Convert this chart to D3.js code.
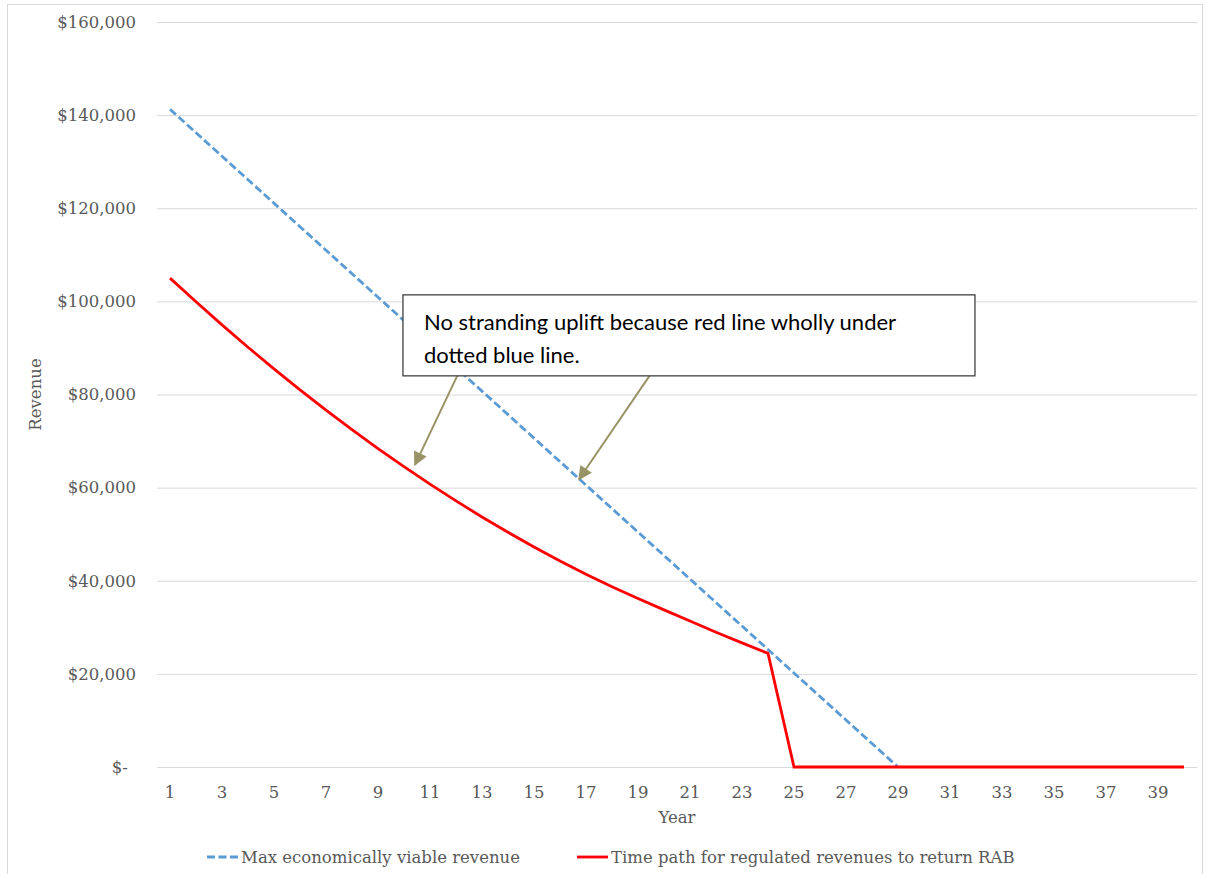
<!DOCTYPE html>
<html>
<head>
<meta charset="utf-8">
<script src="https://cdn.jsdelivr.net/npm/d3@7/dist/d3.min.js"></script>
<style>
  html, body { margin: 0; padding: 0; background: #ffffff; }
  svg { display: block; }
  .tick text { font-family: "DejaVu Serif", Georgia, serif; fill: #595959; }
</style>
</head>
<body>
<svg id="chart" width="1205" height="874"></svg>
<script>
// Years on the category axis
const years = d3.range(1, 41);

// Maximum economically viable revenue (falls to zero in year 29)
const maxViableRevenue = [
  141260, 136215, 131170, 126125, 121080, 116035, 110990, 105945, 100900, 95855,
  90810, 85765, 80720, 75675, 70630, 65585, 60540, 55495, 50450, 45405,
  40360, 35315, 30270, 25225, 20180, 15135, 10090, 5045, 0
];

// Time path for regulated revenues to return the RAB
const regulatedRevenue = [
  105000, 99900, 94950, 90150, 85500, 81000, 76650, 72450, 68400, 64500,
  60750, 57150, 53700, 50400, 47250, 44250, 41400, 38700, 36200, 33750,
  31350, 28950, 26650, 24400, 0, 0, 0, 0, 0, 0,
  0, 0, 0, 0, 0, 0, 0, 0, 0, 0
];

// Axis ticks
const yTickValues = [0, 20000, 40000, 60000, 80000, 100000, 120000, 140000, 160000];
const yTickLabels = ["$-\u2002", "$20,000", "$40,000", "$60,000", "$80,000", "$100,000", "$120,000", "$140,000", "$160,000"];
const xTickLabels = years.filter(y => y % 2 === 1);

// Series names for the legend
const seriesNames = ["Max economically viable revenue", "Time path for regulated revenues to return RAB"];

// Callout text and the points its arrows indicate (year, revenue)
const calloutLines = ["No stranding uplift because red line wholly under", "dotted blue line."];
const calloutAnchor = { year: 9.96, value: 101400 };
const arrowTargets = [
  { from: { year: 12.54, value: 89800 }, to: { year: 10.42, value: 64900 } },
  { from: { year: 19.54, value: 84800 }, to: { year: 16.73, value: 61800 } }
];

const svg = d3.select("#chart");
const margin = { left: 157, right: 8, top: 22, bottom: 107 };
const W = 1205, H = 874;

// Outer chart frame
svg.append("rect")
  .attr("x", 7.5).attr("y", 4.5)
  .attr("width", 1195).attr("height", 872)
  .attr("fill", "none").attr("stroke", "#d9d9d9").attr("stroke-width", 1);

const x = d3.scaleBand().domain(years).range([margin.left, W - margin.right]).paddingInner(0).paddingOuter(0);
const xc = d => x(d) + x.bandwidth() / 2;
const xYear = v => x(1) + x.bandwidth() / 2 + (v - 1) * x.bandwidth();
const y = d3.scaleLinear().domain([0, 160000]).range([H - margin.bottom, margin.top]);

// Gridlines + y labels
const yAxis = d3.axisLeft(y)
  .tickValues(yTickValues)
  .tickFormat((d, i) => yTickLabels[i])
  .tickSize(-(W - margin.right - margin.left))
  .tickPadding(21);
const gy = svg.append("g").attr("transform", `translate(${margin.left},0)`).call(yAxis);
gy.select(".domain").remove();
gy.selectAll(".tick line").attr("stroke", "#d9d9d9").attr("stroke-width", 1);
gy.selectAll(".tick text").attr("font-size", 16.5);

// X labels
const xAxis = d3.axisBottom(x)
  .tickValues(xTickLabels)
  .tickSize(0)
  .tickPadding(19);
const gx = svg.append("g").attr("transform", `translate(0,${y(0)})`).call(xAxis);
gx.select(".domain").remove();
gx.selectAll(".tick text").attr("font-size", 16.5);

// Axis titles
svg.append("text")
  .attr("x", (margin.left + W - margin.right) / 2).attr("y", 823)
  .attr("text-anchor", "middle")
  .attr("font-family", "DejaVu Serif, Georgia, serif").attr("font-size", 16.5).attr("fill", "#595959")
  .text("Year");
svg.append("text")
  .attr("transform", `translate(41,${(y(0) + y(160000)) / 2}) rotate(-90)`)
  .attr("text-anchor", "middle")
  .attr("font-family", "DejaVu Serif, Georgia, serif").attr("font-size", 16.5).attr("fill", "#595959")
  .text("Revenue");

// Series lines
const line = d3.line().x((d, i) => xc(years[i])).y(d => y(d));

svg.append("path")
  .datum(maxViableRevenue)
  .attr("d", line)
  .attr("fill", "none").attr("stroke", "#5b9bd5").attr("stroke-width", 2.8)
  .attr("stroke-dasharray", "8,3.5");

svg.append("path")
  .datum(regulatedRevenue)
  .attr("d", line)
  .attr("fill", "none").attr("stroke", "#ff0000").attr("stroke-width", 2.8)
  .attr("stroke-linejoin", "miter");

// Callout arrows (drawn beneath the callout box)
const arrowColor = "#989466";
svg.append("defs").append("marker")
  .attr("id", "arrowHead")
  .attr("viewBox", "0 0 10 10")
  .attr("refX", 9).attr("refY", 5)
  .attr("markerUnits", "userSpaceOnUse")
  .attr("markerWidth", 16).attr("markerHeight", 14)
  .attr("orient", "auto")
  .append("path").attr("d", "M0,0 L10,5 L0,10 Z").attr("fill", arrowColor);

arrowTargets.forEach(a => {
  svg.append("line")
    .attr("x1", xYear(a.from.year)).attr("y1", y(a.from.value))
    .attr("x2", xYear(a.to.year)).attr("y2", y(a.to.value))
    .attr("stroke", arrowColor).attr("stroke-width", 2)
    .attr("marker-end", "url(#arrowHead)");
});

// Callout box
const bx = xYear(calloutAnchor.year), by = y(calloutAnchor.value);
svg.append("rect")
  .attr("x", bx).attr("y", by)
  .attr("width", 572).attr("height", 81)
  .attr("fill", "#ffffff").attr("stroke", "#404040").attr("stroke-width", 1.3);
calloutLines.forEach((t, i) => {
  svg.append("text")
    .attr("x", bx + 21).attr("y", by + 35 + i * 33)
    .attr("font-family", "Lato, 'Open Sans', sans-serif").attr("font-size", 22)
    .attr("fill", "#000000")
    .text(t);
});

// Legend
const legendY = 857;
const legend = [
  { x: 207, color: "#5b9bd5", dash: "8,3.5", name: seriesNames[0] },
  { x: 577, color: "#ff0000", dash: null, name: seriesNames[1] }
];
legend.forEach(l => {
  svg.append("line")
    .attr("x1", l.x).attr("x2", l.x + 31).attr("y1", legendY).attr("y2", legendY)
    .attr("stroke", l.color).attr("stroke-width", 2.8)
    .attr("stroke-dasharray", l.dash);
  svg.append("text")
    .attr("x", l.x + 34).attr("y", legendY + 6)
    .attr("font-family", "DejaVu Serif, Georgia, serif").attr("font-size", 16.5).attr("fill", "#595959")
    .text(l.name);
});
</script>
</body>
</html>
